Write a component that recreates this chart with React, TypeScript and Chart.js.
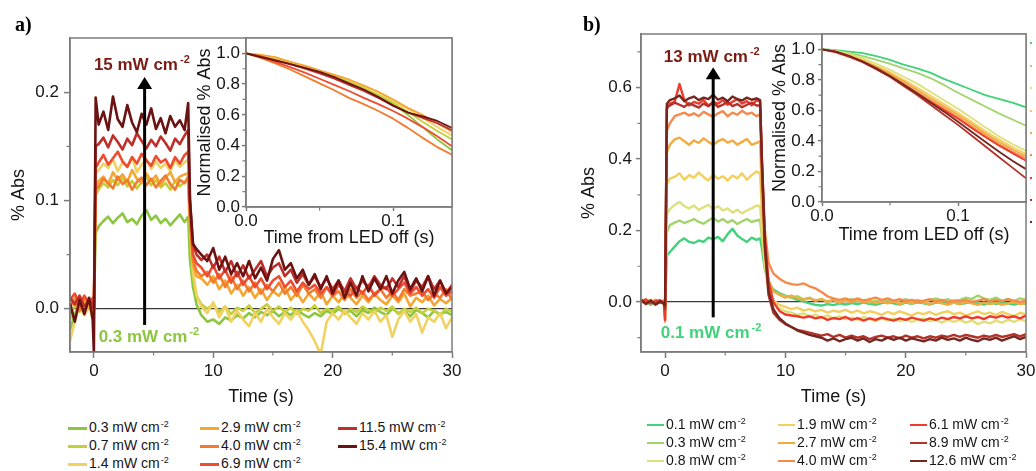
import React, { useEffect, useRef } from 'react';
import { Chart, registerables } from 'chart.js';

Chart.register(...registerables);

const FONT = "'Liberation Sans', Arial, Helvetica, sans-serif";
const SERIF = "'Liberation Serif', 'Times New Roman', serif";
const AXIS_GRAY = '#7c7c7c';
const TEXT = '#151515';
Chart.defaults.font.family = FONT;

// ---------- shared time grid of the main traces (s) ----------
const TIME_MAIN = [
  -2, -1.6, -1.2, -0.8, -0.4, -0.1,
  0, 0.15,
  0.4, 0.8, 1.2, 1.6, 2.0,
  2.4, 2.8, 3.2, 3.6, 4.0,
  4.4, 4.8, 5.2, 5.6, 6.0,
  6.4, 6.8, 7.2, 7.6,
  7.9, 8.05, 8.3, 8.6, 9.0,
  9.5, 10, 10.5, 11, 11.5, 12,
  12.5, 13, 13.5, 14, 14.5, 15,
  15.5, 16, 16.5, 17, 17.5, 18,
  18.5, 19, 19.5, 20, 20.5, 21,
  21.5, 22, 22.5, 23, 23.5, 24,
  24.5, 25, 25.5, 26, 26.5, 27,
  27.5, 28, 28.5, 29, 29.5, 30,
];

// ---------- panel a: % Abs traces ----------
const A_03 = [
  -0.02, -0.005, 0.003, -0.004, 0.002, -0.006,
  -0.002, 0.07,
  0.076, 0.081, 0.085, 0.079, 0.084,
  0.088, 0.08, 0.083, 0.078, 0.086,
  0.091, 0.082, 0.086, 0.079, 0.083,
  0.077, 0.082, 0.087, 0.08,
  0.085, 0.045, 0.02, 0.004, -0.006,
  -0.012, -0.01, -0.014, -0.008, -0.011, -0.006,
  -0.009, -0.004, -0.008, -0.003, -0.006, -0.002,
  -0.007, -0.003, -0.006, -0.001, -0.005, -0.008,
  -0.004, -0.007, -0.002, -0.005, 0.0, -0.004,
  -0.002, -0.007, -0.001, -0.004, 0.001, -0.003,
  -0.006, 0.0, -0.004, -0.002, -0.007, -0.001,
  -0.004, -0.008, -0.002, -0.005, -0.003, -0.006,
];
const A_07 = [
  -0.01, 0.004, -0.003, 0.006, 0.0, -0.004,
  0.0, 0.105,
  0.11, 0.116, 0.112, 0.119, 0.114,
  0.121, 0.113, 0.118, 0.111, 0.117,
  0.122, 0.114, 0.119, 0.112, 0.116,
  0.11, 0.118, 0.113, 0.117,
  0.119, 0.07, 0.03, 0.012, 0.004,
  0.0, 0.004, -0.003, 0.002, -0.005, 0.001,
  -0.002, 0.003, -0.004, 0.0, 0.004, -0.002,
  0.002, -0.003, 0.001, -0.005, 0.0, -0.002,
  0.003, -0.004, 0.0, -0.002, 0.002, -0.005,
  0.0, -0.003, 0.002, -0.001, -0.004, 0.001,
  -0.002, 0.002, -0.005, 0.0, -0.003, 0.001,
  -0.004, 0.0, -0.002, -0.006, 0.0, -0.003,
];
const A_14 = [
  -0.03, -0.012, 0.004, -0.006, 0.002, -0.01,
  -0.005, 0.125,
  0.128, 0.134, 0.13, 0.138, 0.127,
  0.135, 0.131, 0.14, 0.126, 0.133,
  0.138, 0.129, 0.136, 0.13, 0.134,
  0.127, 0.137, 0.131, 0.135,
  0.138, 0.08, 0.035, 0.012, 0.002,
  -0.004, 0.006, -0.008, 0.002, -0.012, -0.002,
  -0.01, -0.016, -0.004, -0.012, 0.0, -0.008,
  -0.014, -0.004, -0.01, -0.002, -0.012, -0.02,
  -0.03, -0.042, -0.012, -0.004, -0.01, -0.002,
  -0.008, -0.014, -0.004, -0.01, -0.002, -0.012,
  -0.006, -0.026, -0.01, -0.002, -0.012, -0.005,
  -0.022, -0.008, -0.012, -0.004, -0.018, -0.008,
];
const A_29 = [
  0.004, 0.01, 0.002, 0.008, 0.0, 0.006,
  0.0, 0.112,
  0.118, 0.122, 0.115, 0.126, 0.119,
  0.124, 0.117, 0.128, 0.12, 0.116,
  0.125, 0.118, 0.123, 0.114, 0.121,
  0.126, 0.117, 0.122, 0.124,
  0.125, 0.08, 0.04, 0.03, 0.028,
  0.022, 0.03, 0.018, 0.026, 0.014, 0.022,
  0.012, 0.02, 0.01, 0.018, 0.008, 0.016,
  0.012, 0.02, 0.008, 0.015, 0.006, 0.014,
  0.008, 0.016, 0.004, 0.012, 0.006, 0.014,
  0.01, 0.004, 0.012, 0.006, 0.014, 0.008,
  0.004, 0.012, 0.006, 0.014, 0.002, 0.01,
  0.006, 0.012, 0.003, 0.009, 0.005, 0.01,
];
const A_40 = [
  0.002, 0.008, -0.002, 0.01, 0.004, 0.008,
  -0.002, 0.11,
  0.113, 0.12, 0.116, 0.111, 0.122,
  0.115, 0.119, 0.11, 0.117, 0.121,
  0.114, 0.12, 0.112, 0.118, 0.123,
  0.115, 0.11, 0.119, 0.116,
  0.122, 0.085, 0.045, 0.035, 0.03,
  0.034, 0.024, 0.032, 0.02, 0.03, 0.018,
  0.026, 0.016, 0.024, 0.014, 0.022, 0.016,
  0.024, 0.014, 0.02, 0.012, 0.022, 0.014,
  0.018, 0.01, 0.02, 0.012, 0.016, 0.008,
  0.018, 0.01, 0.016, 0.008, 0.014, 0.018,
  0.01, 0.016, 0.008, 0.018, 0.012, 0.014,
  0.016, 0.008, 0.014, 0.01, 0.018, 0.008,
];
const A_69 = [
  0.008, 0.014, 0.004, 0.012, 0.006, 0.01,
  0.0, 0.13,
  0.135, 0.142, 0.133, 0.139, 0.145,
  0.136, 0.131, 0.14, 0.134, 0.143,
  0.137, 0.132, 0.141, 0.135, 0.138,
  0.13, 0.14, 0.134, 0.142,
  0.145, 0.095, 0.05, 0.042, 0.038,
  0.03, 0.04, 0.028, 0.036, 0.024, 0.034,
  0.022, 0.03, 0.02, 0.028, 0.018, 0.026,
  0.03, 0.02, 0.026, 0.016, 0.024, 0.018,
  0.022, 0.014, 0.02, 0.012, 0.022, 0.016,
  0.012, 0.02, 0.014, 0.022, 0.012, 0.018,
  0.02, 0.012, 0.018, 0.024, 0.014, 0.02,
  0.012, 0.018, 0.01, 0.02, 0.012, 0.016,
];
const A_115 = [
  0.01, 0.004, 0.012, 0.002, 0.008, 0.004,
  0.0, 0.15,
  0.152, 0.158, 0.149, 0.16, 0.154,
  0.147, 0.157, 0.151, 0.162, 0.155,
  0.148, 0.156, 0.15, 0.159, 0.153,
  0.146, 0.157, 0.152, 0.16,
  0.165, 0.1, 0.06, 0.05, 0.045,
  0.05, 0.038, 0.048, 0.034, 0.044, 0.03,
  0.04, 0.028, 0.036, 0.044, 0.03, 0.038,
  0.042, 0.03, 0.036, 0.024, 0.032, 0.022,
  0.03, 0.02, 0.028, 0.018, 0.026, 0.016,
  0.028, 0.018, 0.026, 0.02, 0.03, 0.022,
  0.018, 0.028, 0.02, 0.03, 0.016, 0.026,
  0.02, 0.03, 0.018, 0.026, 0.014, 0.022,
];
const A_154 = [
  0.005, -0.012, 0.008, -0.005, 0.01, -0.01,
  -0.04, 0.195,
  0.17, 0.182, 0.165, 0.196, 0.175,
  0.168, 0.188, 0.172, 0.163, 0.18,
  0.17, 0.185, 0.166, 0.176, 0.162,
  0.178, 0.168, 0.174, 0.165,
  0.19, 0.1, 0.06, 0.055, 0.05,
  0.044, 0.056, 0.036, 0.048, 0.032, 0.042,
  0.03, 0.044, 0.028, 0.038, 0.026, 0.046,
  0.054, 0.036, 0.042, 0.028, 0.036, 0.022,
  0.032, 0.018, 0.03, 0.014, 0.026, 0.01,
  0.024, 0.012, 0.03, 0.016, 0.028, 0.018,
  0.03, 0.014, 0.026, 0.034, 0.018, 0.028,
  0.016, 0.03, 0.012, 0.026, 0.014, 0.02,
];

// ---------- panel b: % Abs traces ----------
const B_01 = [
  0.005, 0.0, -0.008, 0.004, -0.003, 0.0,
  -0.01, 0.13,
  0.14, 0.155, 0.17, 0.178, 0.168,
  0.165, 0.172, 0.168, 0.18, 0.176,
  0.182, 0.17, 0.19, 0.205, 0.186,
  0.176, 0.168, 0.18, 0.174,
  0.178, 0.15, 0.09, 0.055, 0.035,
  0.025, 0.018, 0.012, 0.006, 0.002, -0.004,
  -0.008, -0.01, -0.006, -0.009, -0.004, -0.007,
  -0.003, -0.006, -0.002, -0.005, -0.008, -0.003,
  0.0, -0.004, -0.007, -0.002, -0.005, -0.001,
  -0.004, -0.007, -0.002, 0.0, -0.005, -0.002,
  -0.006, -0.003, 0.0, -0.004, -0.007, -0.002,
  -0.005, -0.001, -0.004, -0.007, -0.003, -0.005,
];
const B_03 = [
  0.0, 0.006, -0.005, 0.003, -0.002, 0.004,
  -0.01, 0.195,
  0.215, 0.222, 0.228, 0.221, 0.226,
  0.232, 0.224, 0.219, 0.228, 0.236,
  0.225, 0.232, 0.222, 0.229, 0.218,
  0.226, 0.232, 0.224, 0.228,
  0.23, 0.18, 0.1, 0.05, 0.03,
  0.022, 0.016, 0.012, 0.016, 0.008, 0.012,
  0.004, 0.008, 0.002, 0.006, 0.0, 0.004,
  0.008, 0.002, 0.006, -0.002, 0.004, 0.0,
  0.006, 0.0, 0.004, 0.008, 0.002, 0.006,
  0.0, 0.005, 0.01, 0.004, 0.008, 0.002,
  0.006, 0.012, 0.008, 0.018, 0.01, 0.006,
  0.012, 0.004, 0.008, 0.002, 0.01, 0.006,
];
const B_08 = [
  0.006, -0.004, 0.002, -0.006, 0.004, -0.002,
  -0.02, 0.245,
  0.26, 0.272, 0.28, 0.268, 0.262,
  0.27, 0.258, 0.265, 0.272, 0.26,
  0.268, 0.256, 0.262, 0.25, 0.258,
  0.248, 0.256, 0.262, 0.27,
  0.268, 0.2, 0.1, 0.03, -0.005,
  -0.018, -0.026, -0.03, -0.036, -0.032, -0.04,
  -0.036, -0.044, -0.038, -0.046, -0.04, -0.048,
  -0.044, -0.05, -0.042, -0.048, -0.054, -0.046,
  -0.052, -0.046, -0.054, -0.048, -0.056, -0.05,
  -0.046, -0.054, -0.048, -0.058, -0.05, -0.056,
  -0.05, -0.058, -0.052, -0.062, -0.055, -0.06,
  -0.052, -0.058, -0.05, -0.056, -0.048, -0.054,
];
const B_19 = [
  -0.002, 0.006, 0.0, -0.006, 0.004, 0.0,
  -0.03, 0.33,
  0.345, 0.35, 0.36, 0.342, 0.355,
  0.348, 0.362, 0.35, 0.34, 0.356,
  0.345, 0.352, 0.34, 0.354, 0.346,
  0.36, 0.342, 0.355, 0.365,
  0.36, 0.25, 0.12, 0.04, 0.005,
  -0.008, -0.014, -0.02, -0.016, -0.024, -0.02,
  -0.026, -0.022, -0.03, -0.024, -0.028, -0.022,
  -0.03, -0.024, -0.032, -0.026, -0.03, -0.036,
  -0.028, -0.034, -0.026, -0.032, -0.038, -0.03,
  -0.034, -0.028, -0.036, -0.03, -0.026, -0.034,
  -0.03, -0.038, -0.032, -0.026, -0.034, -0.03,
  -0.036, -0.028, -0.034, -0.04, -0.03, -0.036,
];
const B_27 = [
  0.004, -0.004, 0.006, -0.002, 0.003, -0.005,
  -0.04, 0.42,
  0.44, 0.455, 0.46, 0.45, 0.44,
  0.452, 0.445, 0.458, 0.448, 0.44,
  0.45, 0.456, 0.446, 0.452, 0.44,
  0.448, 0.456, 0.44, 0.445,
  0.45, 0.3, 0.14, 0.06, 0.03,
  0.02, 0.012, 0.018, 0.01, 0.006, 0.01,
  0.004, 0.008, 0.0, 0.006, -0.002, 0.004,
  0.0, 0.006, -0.002, 0.004, -0.004, 0.002,
  -0.004, 0.002, -0.006, 0.0, -0.004, 0.002,
  -0.002, -0.006, 0.0, -0.004, -0.008, -0.002,
  -0.006, 0.0, -0.004, -0.008, -0.002, -0.006,
  -0.002, -0.008, -0.004, 0.0, -0.006, -0.003,
];
const B_40 = [
  0.002, 0.008, -0.002, 0.006, 0.0, 0.004,
  -0.055, 0.48,
  0.5, 0.52, 0.525, 0.53, 0.522,
  0.528, 0.52, 0.532, 0.525, 0.518,
  0.528, 0.534, 0.52, 0.53, 0.524,
  0.535, 0.526, 0.53, 0.52,
  0.525, 0.38, 0.2, 0.11, 0.08,
  0.065, 0.055, 0.05, 0.048, 0.052, 0.044,
  0.038, 0.028, 0.016, 0.01, 0.006, 0.01,
  0.004, 0.01, 0.004, 0.008, 0.012, 0.006,
  0.01, 0.004, 0.008, 0.002, 0.006, 0.0,
  0.004, 0.008, 0.002, 0.006, 0.0, 0.004,
  0.002, 0.006, 0.0, 0.004, 0.008, 0.002,
  0.006, 0.002, 0.008, 0.004, 0.0, 0.004,
];
const B_61 = [
  0.0, 0.006, -0.004, 0.002, 0.005, -0.002,
  -0.05, 0.54,
  0.555, 0.56, 0.61, 0.565, 0.55,
  0.56, 0.555, 0.565, 0.55, 0.56,
  0.555, 0.565, 0.552, 0.56, 0.568,
  0.555, 0.562, 0.55, 0.565,
  0.56, 0.4, 0.18, 0.06, 0.0,
  -0.025, -0.035, -0.038, -0.04, -0.044, -0.04,
  -0.046, -0.042, -0.05, -0.045, -0.048, -0.042,
  -0.05, -0.045, -0.052, -0.046, -0.05, -0.044,
  -0.048, -0.052, -0.046, -0.05, -0.044, -0.048,
  -0.052, -0.046, -0.05, -0.044, -0.048, -0.042,
  -0.046, -0.04, -0.046, -0.042, -0.048, -0.04,
  -0.044, -0.038, -0.044, -0.04, -0.046, -0.038,
];
const B_89 = [
  0.004, -0.006, 0.002, -0.008, 0.0, -0.004,
  -0.02, 0.545,
  0.55, 0.558, 0.552, 0.546, 0.556,
  0.55, 0.544, 0.555, 0.548, 0.558,
  0.546, 0.552, 0.56, 0.548, 0.554,
  0.545, 0.552, 0.558, 0.55,
  0.55, 0.38, 0.15, 0.02, -0.03,
  -0.05, -0.062, -0.07, -0.078, -0.082, -0.086,
  -0.09, -0.094, -0.09, -0.098, -0.092, -0.1,
  -0.094, -0.1, -0.096, -0.104, -0.098, -0.094,
  -0.1, -0.096, -0.102, -0.094, -0.1, -0.096,
  -0.102, -0.096, -0.1, -0.094, -0.098, -0.092,
  -0.098, -0.092, -0.096, -0.1, -0.094, -0.098,
  -0.092, -0.098, -0.094, -0.09, -0.096, -0.09,
];
const B_126 = [
  0.006, -0.004, 0.004, -0.006, 0.002, -0.005,
  -0.01, 0.555,
  0.565, 0.57, 0.578, 0.562, 0.57,
  0.575, 0.565, 0.572, 0.568, 0.58,
  0.566, 0.572, 0.562, 0.575, 0.568,
  0.564, 0.572, 0.566, 0.57,
  0.565, 0.4, 0.16, 0.03, -0.02,
  -0.045, -0.06, -0.07, -0.08, -0.086, -0.092,
  -0.096, -0.1, -0.108, -0.102, -0.11, -0.104,
  -0.1, -0.108, -0.102, -0.112, -0.104, -0.108,
  -0.1, -0.106, -0.1, -0.108, -0.102, -0.106,
  -0.11, -0.104, -0.108, -0.1, -0.106, -0.102,
  -0.108, -0.1, -0.106, -0.11, -0.102, -0.106,
  -0.1, -0.108, -0.102, -0.096, -0.104, -0.098,
];

// ---------- insets: normalised decays after LED off ----------
const TIME_INSET_A = [0, 0.01, 0.02, 0.03, 0.04, 0.05, 0.06, 0.07, 0.08, 0.09, 0.1, 0.11, 0.12, 0.13, 0.14];
const IA_03 = [1.0, 0.98, 0.96, 0.935, 0.905, 0.875, 0.845, 0.805, 0.765, 0.72, 0.67, 0.6, 0.52, 0.44, 0.37];
const IA_07 = [1.0, 0.985, 0.965, 0.94, 0.91, 0.885, 0.855, 0.815, 0.775, 0.73, 0.68, 0.62, 0.555, 0.495, 0.44];
const IA_14 = [1.0, 0.99, 0.97, 0.945, 0.915, 0.885, 0.86, 0.825, 0.79, 0.745, 0.69, 0.64, 0.58, 0.52, 0.465];
const IA_29 = [1.0, 0.99, 0.975, 0.945, 0.92, 0.89, 0.86, 0.83, 0.79, 0.75, 0.7, 0.645, 0.6, 0.545, 0.49];
const IA_40 = [1.0, 0.97, 0.935, 0.895, 0.85, 0.805, 0.76, 0.71, 0.67, 0.625, 0.575, 0.515, 0.45, 0.39, 0.34];
const IA_69 = [1.0, 0.975, 0.945, 0.91, 0.875, 0.835, 0.795, 0.755, 0.71, 0.67, 0.625, 0.575, 0.52, 0.46, 0.395];
const IA_115 = [1.0, 0.98, 0.955, 0.93, 0.9, 0.87, 0.835, 0.795, 0.755, 0.71, 0.66, 0.615, 0.58, 0.545, 0.5];
const IA_154 = [1.0, 0.975, 0.955, 0.93, 0.905, 0.88, 0.845, 0.805, 0.765, 0.715, 0.66, 0.615, 0.59, 0.56, 0.515];

const TIME_INSET_B = [0, 0.01, 0.02, 0.03, 0.04, 0.05, 0.06, 0.07, 0.08, 0.09, 0.1, 0.11, 0.12, 0.13, 0.14, 0.15];
const IB_01 = [1.0, 0.995, 0.985, 0.975, 0.955, 0.93, 0.9, 0.875, 0.845, 0.805, 0.77, 0.735, 0.7, 0.675, 0.65, 0.62];
const IB_03 = [1.0, 0.99, 0.975, 0.955, 0.93, 0.905, 0.875, 0.845, 0.81, 0.765, 0.715, 0.67, 0.625, 0.58, 0.54, 0.5];
const IB_08 = [1.0, 0.99, 0.97, 0.94, 0.905, 0.865, 0.82, 0.775, 0.72, 0.665, 0.61, 0.55, 0.49, 0.43, 0.38, 0.335];
const IB_19 = [1.0, 0.985, 0.96, 0.93, 0.89, 0.85, 0.8, 0.75, 0.695, 0.64, 0.585, 0.525, 0.465, 0.41, 0.36, 0.315];
const IB_27 = [1.0, 0.985, 0.96, 0.925, 0.885, 0.84, 0.79, 0.735, 0.68, 0.625, 0.57, 0.51, 0.45, 0.395, 0.345, 0.3];
const IB_40 = [1.0, 0.985, 0.955, 0.92, 0.88, 0.83, 0.775, 0.72, 0.665, 0.61, 0.555, 0.495, 0.435, 0.38, 0.33, 0.285];
const IB_61 = [1.0, 0.98, 0.95, 0.915, 0.87, 0.82, 0.765, 0.71, 0.655, 0.6, 0.545, 0.485, 0.425, 0.37, 0.32, 0.27];
const IB_89 = [1.0, 0.985, 0.955, 0.915, 0.87, 0.82, 0.76, 0.7, 0.635, 0.57, 0.505, 0.435, 0.365, 0.295, 0.225, 0.155];
const IB_126 = [1.0, 0.985, 0.955, 0.92, 0.875, 0.825, 0.77, 0.71, 0.65, 0.59, 0.525, 0.46, 0.395, 0.33, 0.27, 0.215];

// ---------- series labels & colours ----------
const LABELS_A = ['0.3', '0.7', '1.4', '2.9', '4.0', '6.9', '11.5', '15.4'];
const COLORS_A = ['#8cc63f', '#c5cf3a', '#f1d261', '#f4a632', '#f27b2e', '#ee4c30', '#be2f2a', '#6b1212'];
const MAIN_A = [A_03, A_07, A_14, A_29, A_40, A_69, A_115, A_154];
const INSET_A = [IA_03, IA_07, IA_14, IA_29, IA_40, IA_69, IA_115, IA_154];

const LABELS_B = ['0.1', '0.3', '0.8', '1.9', '2.7', '4.0', '6.1', '8.9', '12.6'];
const COLORS_B = ['#41d27a', '#a3d46b', '#dfe07c', '#f2cf5e', '#f1ab3e', '#f58a4c', '#ee3b2c', '#b3322a', '#74261f'];
const MAIN_B = [B_01, B_03, B_08, B_19, B_27, B_40, B_61, B_89, B_126];
const INSET_B = [IB_01, IB_03, IB_08, IB_19, IB_27, IB_40, IB_61, IB_89, IB_126];

// annotation anchors (data units)
const ANNOT_A = { arrowX: 4.25, arrowFrom: -0.015, arrowTo: 0.214, hiX: 0, hiY: 0.22, hiText: '15', loX: 0.4, loY: -0.031, loText: '0.3' };
const ANNOT_B = { arrowX: 4.0, arrowFrom: -0.043, arrowTo: 0.657, hiX: -0.1, hiY: 0.671, hiText: '13', loX: -0.36, loY: -0.102, loText: '0.1' };

type Spec = {
  id: string; left: number; top: number; width: number; height: number;
  padTop: number; padRight: number; yWidth: number; xHeight: number;
  x: { min: number; max: number; step: number; dec: number; minor: number[]; tickLen: number; pad: number; title: string; titlePad: number };
  y: { min: number; max: number; step: number; dec: number; minor: number[]; tickLen: number; pad: number; title: string; titlePad: number };
  zeroLine: boolean; fillWhite: boolean;
  times: number[]; series: number[][]; colors: string[]; lineWidth: number;
  annotate?: (chart: any) => void;
};

function drawSup(ctx: CanvasRenderingContext2D, main: string, px: number, py: number, color: string) {
  ctx.font = `bold 17px ${FONT}`;
  ctx.fillStyle = color;
  ctx.textAlign = 'left';
  ctx.textBaseline = 'alphabetic';
  ctx.fillText(main, px, py);
  const w = ctx.measureText(main).width;
  ctx.font = `bold 11px ${FONT}`;
  ctx.fillText('-2', px + w + 2, py - 7);
}

function makeAnnotate(a: typeof ANNOT_A, hiColor: string, loColor: string) {
  return (chart: any) => {
    const { ctx, scales } = chart;
    const x = scales.x, y = scales.y;
    const ax = x.getPixelForValue(a.arrowX);
    const y0 = y.getPixelForValue(a.arrowFrom);
    const y1 = y.getPixelForValue(a.arrowTo);
    ctx.save();
    ctx.strokeStyle = '#000';
    ctx.lineWidth = 3;
    ctx.beginPath();
    ctx.moveTo(ax, y0);
    ctx.lineTo(ax, y1 + 10);
    ctx.stroke();
    ctx.fillStyle = '#000';
    ctx.beginPath();
    ctx.moveTo(ax, y1);
    ctx.lineTo(ax - 7.5, y1 + 12);
    ctx.lineTo(ax + 7.5, y1 + 12);
    ctx.closePath();
    ctx.fill();
    drawSup(ctx, `${a.hiText} mW cm`, x.getPixelForValue(a.hiX), y.getPixelForValue(a.hiY), hiColor);
    drawSup(ctx, `${a.loText} mW cm`, x.getPixelForValue(a.loX), y.getPixelForValue(a.loY), loColor);
    ctx.restore();
  };
}

function buildChart(canvas: HTMLCanvasElement, s: Spec) {
  const n = s.series.length;
  const decor = {
    id: 'decor_' + s.id,
    beforeDraw(chart: any) {
      if (!s.fillWhite) return;
      const a = chart.chartArea, c = chart.ctx;
      c.save();
      c.fillStyle = '#ffffff';
      c.fillRect(a.left, a.top, a.right - a.left, a.bottom - a.top);
      c.restore();
    },
    afterDraw(chart: any) {
      const a = chart.chartArea, c = chart.ctx;
      const xs = chart.scales.x, ys = chart.scales.y;
      c.save();
      c.strokeStyle = AXIS_GRAY;
      c.lineWidth = 1.5;
      c.strokeRect(a.left, a.top, a.right - a.left, a.bottom - a.top);
      c.lineWidth = 1.2;
      c.beginPath();
      for (const v of s.x.minor) {
        const px = xs.getPixelForValue(v);
        c.moveTo(px, a.bottom);
        c.lineTo(px, a.bottom + 3.5);
      }
      for (const v of s.y.minor) {
        const py = ys.getPixelForValue(v);
        c.moveTo(a.left, py);
        c.lineTo(a.left - 3.5, py);
      }
      c.stroke();
      c.restore();
      if (s.annotate) s.annotate(chart);
    },
  };
  const tickFont = { family: FONT, size: 17 };
  const titleFont = { family: FONT, size: 18 };
  return new Chart(canvas, {
    type: 'line',
    data: {
      datasets: s.series.map((vals, i) => ({
        label: String(i),
        data: s.times.map((t, k) => ({ x: t, y: vals[k] })),
        borderColor: s.colors[i],
        backgroundColor: s.colors[i],
        borderWidth: s.lineWidth,
        pointRadius: 0,
        tension: 0,
        fill: false,
        clip: 0,
        order: n - i,
        borderJoinStyle: 'round',
      })),
    },
    options: {
      responsive: false,
      animation: false,
      devicePixelRatio: 1,
      events: [],
      layout: { padding: { top: s.padTop, right: s.padRight, left: 0, bottom: 0 } },
      plugins: { legend: { display: false }, tooltip: { enabled: false }, title: { display: false } },
      scales: {
        x: {
          type: 'linear',
          min: s.x.min,
          max: s.x.max,
          ticks: {
            stepSize: s.x.step,
            includeBounds: false,
            autoSkip: false,
            maxRotation: 0,
            padding: s.x.pad,
            color: TEXT,
            font: tickFont,
            callback: (v: any) => Number(v).toFixed(s.x.dec),
          },
          grid: { drawOnChartArea: false, drawTicks: true, tickLength: s.x.tickLen, tickColor: AXIS_GRAY, tickWidth: 1.5 },
          border: { display: true, color: AXIS_GRAY, width: 1.5 },
          title: { display: true, text: s.x.title, color: TEXT, font: titleFont, padding: { top: 0, bottom: s.x.titlePad } },
          afterFit: (sc: any) => { sc.height = s.xHeight; sc.paddingLeft = 0; sc.paddingRight = 0; },
        },
        y: {
          type: 'linear',
          min: s.y.min,
          max: s.y.max,
          ticks: {
            stepSize: s.y.step,
            includeBounds: false,
            autoSkip: false,
            padding: s.y.pad,
            color: TEXT,
            font: tickFont,
            callback: (v: any) => Number(v).toFixed(s.y.dec),
          },
          grid: {
            drawOnChartArea: s.zeroLine,
            drawTicks: true,
            tickLength: s.y.tickLen,
            tickColor: AXIS_GRAY,
            tickWidth: 1.5,
            lineWidth: 1.2,
            color: (ctx: any) => (ctx.tick && Math.abs(ctx.tick.value) < 1e-9 ? '#3a3a3a' : 'rgba(0,0,0,0)'),
          },
          border: { display: true, color: AXIS_GRAY, width: 1.5 },
          title: { display: true, text: s.y.title, color: TEXT, font: titleFont, padding: { top: s.y.titlePad, bottom: 0 } },
          afterFit: (sc: any) => { sc.width = s.yWidth; sc.paddingTop = 0; sc.paddingBottom = 0; },
        },
      },
    } as any,
    plugins: [decor],
  } as any);
}

function ChartBox({ spec }: { spec: Spec }) {
  const ref = useRef<HTMLCanvasElement>(null);
  useEffect(() => {
    if (!ref.current) return;
    const chart = buildChart(ref.current, spec);
    return () => chart.destroy();
  }, []);
  return (
    <canvas
      ref={ref}
      width={spec.width}
      height={spec.height}
      style={{ position: 'absolute', left: spec.left, top: spec.top, width: spec.width, height: spec.height }}
    />
  );
}

const SPEC_MAIN_A: Spec = {
  id: 'mainA', left: 0, top: 0, width: 470, height: 416, padTop: 38, padRight: 18, yWidth: 70, xHeight: 64,
  x: { min: -2, max: 30, step: 10, dec: 0, minor: [5, 15, 25], tickLen: 6, pad: 3, title: 'Time (s)', titlePad: 8 },
  y: { min: -0.04, max: 0.25, step: 0.1, dec: 1, minor: [0.05, 0.15], tickLen: 6, pad: 5, title: '% Abs', titlePad: 8 },
  zeroLine: true, fillWhite: false, times: TIME_MAIN, series: MAIN_A, colors: COLORS_A, lineWidth: 2.6,
  annotate: makeAnnotate(ANNOT_A, '#7a1c14', '#8cc63f'),
};
const SPEC_INSET_A: Spec = {
  id: 'insetA', left: 186, top: 0, width: 284, height: 255, padTop: 38, padRight: 18, yWidth: 60, xHeight: 48,
  x: { min: 0, max: 0.14, step: 0.1, dec: 1, minor: [0.05], tickLen: 4, pad: 0, title: 'Time from LED off (s)', titlePad: 6 },
  y: { min: 0, max: 1.1, step: 0.2, dec: 1, minor: [0.1, 0.3, 0.5, 0.7, 0.9], tickLen: 4, pad: 2, title: 'Normalised % Abs', titlePad: 8 },
  zeroLine: false, fillWhite: true, times: TIME_INSET_A, series: INSET_A, colors: COLORS_A, lineWidth: 1.8,
};
const SPEC_MAIN_B: Spec = {
  id: 'mainB', left: 570, top: 0, width: 466, height: 416, padTop: 34, padRight: 10, yWidth: 71, xHeight: 64,
  x: { min: -2, max: 30, step: 10, dec: 0, minor: [5, 15, 25], tickLen: 6, pad: 3, title: 'Time (s)', titlePad: 8 },
  y: { min: -0.14, max: 0.75, step: 0.2, dec: 1, minor: [-0.1, 0.1, 0.3, 0.5, 0.7], tickLen: 5, pad: 4, title: '% Abs', titlePad: 8 },
  zeroLine: true, fillWhite: false, times: TIME_MAIN, series: MAIN_B, colors: COLORS_B, lineWidth: 2.4,
  annotate: makeAnnotate(ANNOT_B, '#7a1c14', '#41d27a'),
};
const SPEC_INSET_B: Spec = {
  id: 'insetB', left: 761, top: 0, width: 275, height: 250, padTop: 34, padRight: 10, yWidth: 61, xHeight: 48,
  x: { min: 0, max: 0.15, step: 0.1, dec: 1, minor: [0.05], tickLen: 4, pad: 0, title: 'Time from LED off (s)', titlePad: 4 },
  y: { min: 0, max: 1.1, step: 0.2, dec: 1, minor: [0.1, 0.3, 0.5, 0.7, 0.9], tickLen: 4, pad: 3, title: 'Normalised % Abs', titlePad: 8 },
  zeroLine: false, fillWhite: true, times: TIME_INSET_B, series: INSET_B, colors: COLORS_B, lineWidth: 1.8,
};

function Legend({ labels, colors, cols, rows, lineLen, lineH }: { labels: string[]; colors: string[]; cols: number[]; rows: number[]; lineLen: number; lineH: number }) {
  return (
    <>
      {labels.map((lab, i) => {
        const c = Math.floor(i / 3), r = i % 3;
        return (
          <div
            key={lab + i}
            style={{
              position: 'absolute', left: cols[c], top: rows[r] - 9, height: 18, display: 'flex', alignItems: 'center',
              whiteSpace: 'nowrap', fontFamily: FONT, fontSize: 14, color: TEXT, lineHeight: '18px',
            }}
          >
            <span style={{ display: 'inline-block', width: lineLen, height: lineH, background: colors[i], marginRight: 2 }} />
            <span>
              {lab} mW cm<span style={{ fontSize: 9, position: 'relative', top: -5, marginLeft: 1 }}>-2</span>
            </span>
          </div>
        );
      })}
    </>
  );
}

const EDGE_DOTS_Y = [43, 66, 88, 111, 133, 155, 178, 200, 222];

export default function App() {
  return (
    <div style={{ position: 'fixed', left: 0, top: 0, width: 1036, height: 471, overflow: 'hidden', background: '#fff' }}>
      <ChartBox spec={SPEC_MAIN_A} />
      <ChartBox spec={SPEC_INSET_A} />
      <ChartBox spec={SPEC_MAIN_B} />
      <ChartBox spec={SPEC_INSET_B} />
      <div style={{ position: 'absolute', left: 15, top: 13, fontFamily: SERIF, fontWeight: 'bold', fontSize: 20, lineHeight: '22px', color: '#000' }}>a)</div>
      <div style={{ position: 'absolute', left: 583, top: 13, fontFamily: SERIF, fontWeight: 'bold', fontSize: 20, lineHeight: '22px', color: '#000' }}>b)</div>
      <Legend labels={LABELS_A} colors={COLORS_A} cols={[68, 200, 338]} rows={[428, 446, 464]} lineLen={19} lineH={3} />
      <Legend labels={LABELS_B} colors={COLORS_B} cols={[647, 778, 910]} rows={[425, 443, 461]} lineLen={17} lineH={2} />
      {EDGE_DOTS_Y.map((y, i) => (
        <span key={'d' + i} style={{ position: 'absolute', left: 1030, top: y - 1, width: 2, height: 2, background: COLORS_B[i] }} />
      ))}
    </div>
  );
}
